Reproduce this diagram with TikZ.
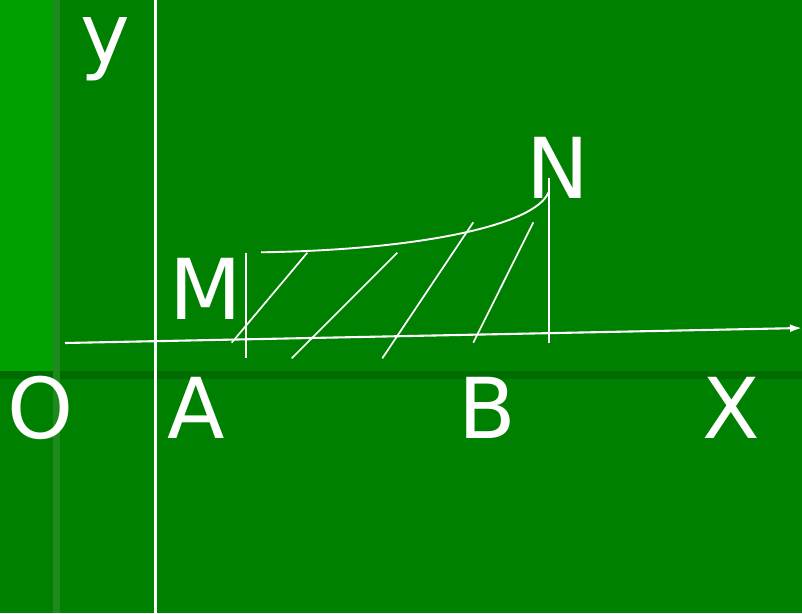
\documentclass[tikz,border=0pt]{standalone}
\usepackage{fontspec}
\setmainfont{DejaVu Sans}
\usetikzlibrary{arrows.meta}
\definecolor{bgmain}{HTML}{008000}
\definecolor{bgbright}{HTML}{00A000}
\definecolor{bgband}{HTML}{006C00}
\definecolor{bgstrip}{HTML}{1E8A1E}
\tikzset{
  lbl/.style={text=white,font=\fontsize{84}{84}\selectfont,inner sep=0pt,anchor=base},
  wline/.style={draw=white,line width=1.7pt},
  axisline/.style={draw=white,line width=2.1pt}
}
\begin{document}
\begin{tikzpicture}[x=1pt,y=-1pt]
\useasboundingbox (0,0) rectangle (802,613);
% background
\fill[bgmain] (0,0) rectangle (802,613);
\fill[bgbright] (0,0) rectangle (53,371);
\fill[bgband] (0,371) rectangle (802,379);
\fill[bgstrip] (53,0) rectangle (60,613);
% coordinates
\coordinate (yTop) at (155.5,0);
\coordinate (yBot) at (155.5,613);
\coordinate (xStart) at (65,343);
\coordinate (xEnd) at (802,328);
\coordinate (Mtop) at (246,252.5);
\coordinate (Mbot) at (246,357.5);
\coordinate (Ntop) at (549,177.5);
\coordinate (Nbot) at (549,342.5);
\coordinate (c0) at (261,252.3);
\coordinate (c3) at (548.3,192.7);
\coordinate (h1a) at (231.7,342.7);
\coordinate (h1b) at (307.3,252.7);
\coordinate (h2a) at (291.7,358.3);
\coordinate (h2b) at (397.3,252.7);
\coordinate (h3a) at (382.3,358.3);
\coordinate (h3b) at (473.3,222.3);
\coordinate (h4a) at (473.3,342.7);
\coordinate (h4b) at (533.3,222.3);
% axes
\draw[axisline] (yTop) -- (yBot);
\draw[axisline,-{Latex[length=12pt,width=8pt]}] (xStart) -- (xEnd);
% verticals
\draw[wline] (Mtop) -- (Mbot);
\draw[wline] (Ntop) -- (Nbot);
% curve
\draw[wline,line width=1.9pt] (c0) .. controls (420,250) and (535,225) .. (c3);
% hatch
\draw[wline] (h1a) -- (h1b);
\draw[wline] (h2a) -- (h2b);
\draw[wline] (h3a) -- (h3b);
\draw[wline] (h4a) -- (h4b);
% labels
\node[lbl] (ly) at (105,63) {y};
\node[lbl] (lM) at (205.5,319) {M};
\node[lbl] (lN) at (557.5,198.5) {N};
\node[lbl] (lO) at (41,438.5) {O};
\node[lbl] (lA) at (196,438.5) {A};
\node[lbl] (lB) at (487,438.5) {B};
\node[lbl] (lX) at (731,438.5) {X};
\end{tikzpicture}
\end{document}
